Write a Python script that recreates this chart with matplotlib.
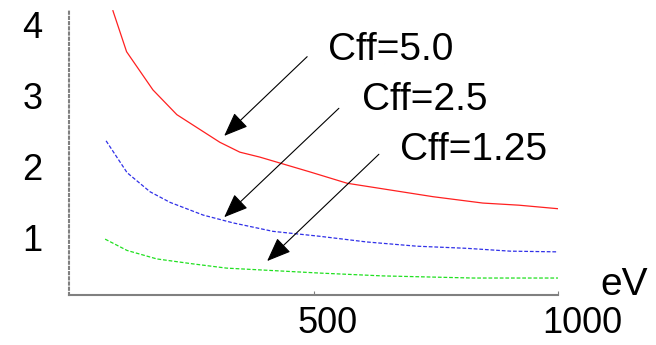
import matplotlib
matplotlib.use("Agg")
import matplotlib.pyplot as plt
from matplotlib.transforms import ScaledTranslation

plt.rcParams['font.family'] = ['Liberation Sans', 'DejaVu Sans']

# curves (energy in eV)
red_ev = [88, 116, 170, 219, 307, 348, 389, 492, 568, 744, 846, 920, 1000]
red_val = [4.20, 3.62, 3.08, 2.73, 2.34, 2.20, 2.13, 1.92, 1.76, 1.57, 1.48, 1.45, 1.40]

blue_ev = [74, 117, 164, 205, 273, 334, 416, 512, 608, 711, 813, 902, 1000]
blue_val = [2.36, 1.91, 1.64, 1.49, 1.31, 1.20, 1.08, 1.01, 0.93, 0.87, 0.84, 0.80, 0.79]

green_ev = [72, 117, 178, 252, 321, 403, 512, 641, 826, 1000]
green_val = [0.97, 0.81, 0.69, 0.62, 0.56, 0.53, 0.49, 0.45, 0.42, 0.42]

labels = ["Cff=5.0", "Cff=2.5", "Cff=1.25"]
arrow_tips = [(316, 2.43), (316, 1.28), (404, 0.66)]
arrow_tails = [(486, 3.55), (551, 2.82), (633, 2.17)]
label_pos = [(529, 3.50), (598, 2.80), (676, 2.09)]

fig = plt.figure(figsize=(6.56, 3.45), dpi=100)
ax = fig.add_axes([69 / 656, 50 / 345, 489 / 656, 285 / 345])

ax.plot(red_ev, red_val, color="#ff2020", lw=0.9)
ax.plot(blue_ev, blue_val, color="#3030e8", lw=0.9, ls=(0, (3, 1.5)))
ax.plot(green_ev, green_val, color="#20e020", lw=0.9, ls=(0, (3, 1.5)))

for lab, tip, tail, pos in zip(labels, arrow_tips, arrow_tails, label_pos):
    ax.annotate("", xy=tip, xytext=tail,
                arrowprops=dict(arrowstyle="-|>,head_length=1.0,head_width=0.4",
                                mutation_scale=15, color="black", lw=0.8,
                                shrinkA=0, shrinkB=0))
    ax.text(pos[0], pos[1], lab, fontsize=28, ha="left", va="baseline")

ax.set_xlim(-2, 1000)
ax.set_ylim(0.18, 4.21)
ax.set_xticks([500, 1000])
ax.set_yticks([1, 2, 3, 4])

ax.spines["top"].set_visible(False)
ax.spines["right"].set_visible(False)
ax.spines["left"].set_color("#808080")
ax.spines["left"].set_linestyle((0, (1, 1.5)))
ax.spines["left"].set_linewidth(1.5)
ax.spines["bottom"].set_color("#808080")
ax.spines["bottom"].set_linewidth(1.5)

ax.tick_params(axis="y", length=0, pad=19, labelsize=26)
ax.tick_params(axis="x", direction="in", length=3, color="#808080", pad=8, labelsize=26)

# x labels in the reference start a bit left of their tick
shift = ScaledTranslation(-16 / 100, 0, fig.dpi_scale_trans)
for t in ax.get_xticklabels():
    t.set_horizontalalignment("left")
    t.set_transform(t.get_transform() + shift)

fig.text(600 / 656, 50 / 345, "eV", fontsize=28, ha="left", va="baseline")

fig.savefig("out.png", dpi=100)
